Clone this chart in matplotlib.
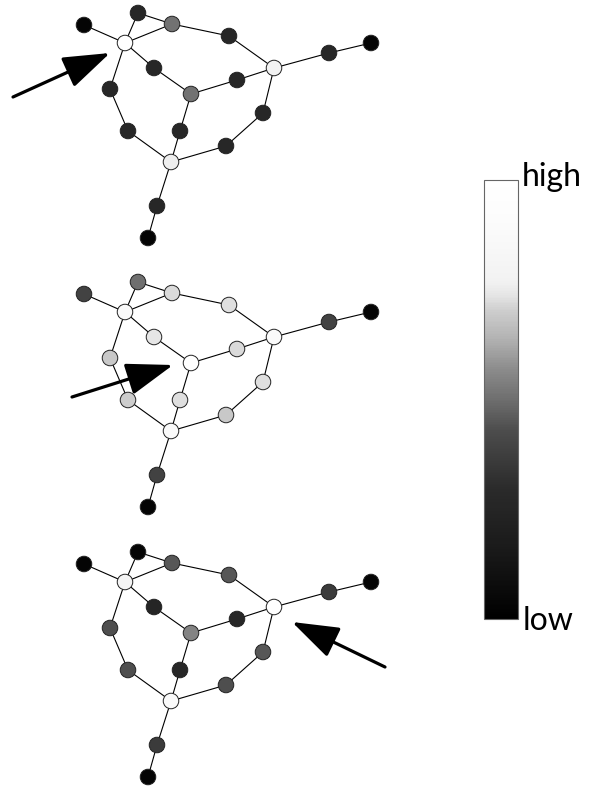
import numpy as np
import matplotlib
matplotlib.use('Agg')
import matplotlib.pyplot as plt
from matplotlib.colors import LinearSegmentedColormap, Normalize
from matplotlib.cm import ScalarMappable

# node layout (pixel coords of the top drawing)
node_x = [84, 138, 172, 125, 229, 274, 329, 371, 154, 191, 237, 110, 263, 128, 180, 226, 171, 157, 148]
node_y = [25, 13, 24, 43, 36, 68, 53, 43, 68, 94, 80, 89, 113, 131, 131, 146, 162, 206, 238]

edges = [(0, 3), (1, 3), (1, 2), (2, 3), (2, 4), (4, 5), (5, 6), (6, 7),
         (3, 8), (8, 9), (9, 10), (10, 5), (3, 11), (11, 13), (13, 16),
         (9, 14), (14, 16), (5, 12), (12, 15), (15, 16), (16, 17), (17, 18)]

# activation of each node, one list per drawing
act_top = [0.03, 0.27, 0.51, 1.0, 0.27, 0.77, 0.27, 0.03, 0.27, 0.51, 0.27,
           0.27, 0.27, 0.27, 0.27, 0.27, 0.76, 0.27, 0.03]
act_mid = [0.39, 0.50, 0.72, 0.88, 0.73, 0.88, 0.39, 0.03, 0.74, 1.0, 0.72,
           0.69, 0.73, 0.70, 0.73, 0.69, 0.88, 0.39, 0.03]
act_bot = [0.03, 0.03, 0.45, 0.80, 0.45, 1.0, 0.36, 0.03, 0.25, 0.55, 0.27,
           0.43, 0.45, 0.43, 0.27, 0.43, 0.88, 0.36, 0.03]
acts = [act_top, act_mid, act_bot]
offsets = [0, 269, 539]

# arrows (tail, tip) in pixel coords
arrow_tail = [(13, 97), (72, 397), (385, 667)]
arrow_tip = [(110, 53), (173, 365), (292, 622)]

cmap = LinearSegmentedColormap.from_list('act', [
    (0.0, '#000000'), (0.16, '#1a1a1a'), (0.30, '#2b2b2b'), (0.43, '#4d4d4d'),
    (0.50, '#6e6e6e'), (0.57, '#8c8c8c'), (0.64, '#b3b3b3'), (0.70, '#cccccc'),
    (0.74, '#e6e6e6'), (0.77, '#f2f2f2'), (0.91, '#fcfcfc'), (1.0, '#ffffff')])

fig = plt.figure(figsize=(5.95, 7.89), dpi=100)
ax = fig.add_axes([0, 0, 1, 1])
ax.set_xlim(0, 595)
ax.set_ylim(789, 0)
ax.set_axis_off()

nx = np.array(node_x)
ny = np.array(node_y)
for off, a in zip(offsets, acts):
    for i, j in edges:
        ax.plot([nx[i], nx[j]], [ny[i] + off, ny[j] + off], color='black', lw=0.8, zorder=1)
    ax.scatter(nx, ny + off, c=a, cmap=cmap, vmin=0, vmax=1, s=125,
               edgecolors='#222222', linewidths=0.7, zorder=2)

for tail, tip in zip(arrow_tail, arrow_tip):
    ax.annotate('', xy=tip, xytext=tail,
                arrowprops=dict(arrowstyle='-|>,head_length=2.9,head_width=1.0',
                                mutation_scale=10, lw=2.3, color='black',
                                shrinkA=0, shrinkB=0))

# colour bar
cax = fig.add_axes([484 / 595, (789 - 619) / 789, 34 / 595, 439 / 789])
cb = fig.colorbar(ScalarMappable(norm=Normalize(0, 1), cmap=cmap), cax=cax)
cb.set_ticks([])
cb.outline.set_edgecolor('#666666')
cb.outline.set_linewidth(0.8)

fig.text(522 / 595, 1 - 186 / 789, 'high', fontsize=23, family='Lato', ha='left', va='baseline')
fig.text(523 / 595, 1 - 630 / 789, 'low', fontsize=23, family='Lato', ha='left', va='baseline')

fig.savefig('out.png', dpi=100)
